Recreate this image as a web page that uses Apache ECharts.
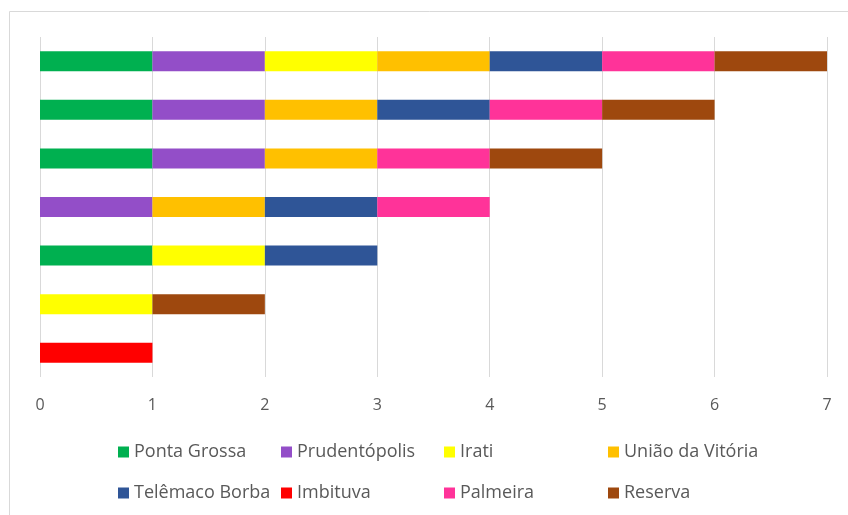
<!DOCTYPE html>
<html>
<head>
<meta charset="utf-8">
<script src="https://cdn.jsdelivr.net/npm/echarts@6/dist/echarts.min.js"></script>
<style>
  html, body { margin: 0; padding: 0; background: #fff; }
  #chart { width: 848px; height: 515px; }
</style>
</head>
<body>
<div id="chart"></div>
<script>
// rows from bottom to top
var rows = ['r7', 'r6', 'r5', 'r4', 'r3', 'r2', 'r1'];
var xTicks = [0, 1, 2, 3, 4, 5, 6, 7];

var pontaGrossa   = [0, 0, 1, 0, 1, 1, 1];
var prudentopolis = [0, 0, 0, 1, 1, 1, 1];
var irati         = [0, 1, 1, 0, 0, 0, 1];
var uniaoVitoria  = [0, 0, 0, 1, 1, 1, 1];
var telemaco      = [0, 0, 1, 1, 0, 1, 1];
var imbituva      = [1, 0, 0, 0, 0, 0, 0];
var palmeira      = [0, 0, 0, 1, 1, 1, 1];
var reserva       = [0, 1, 0, 0, 1, 1, 1];

var names = ['Ponta Grossa', 'Prudentópolis', 'Irati', 'União da Vitória',
             'Telêmaco Borba', 'Imbituva', 'Palmeira', 'Reserva'];
var values = [pontaGrossa, prudentopolis, irati, uniaoVitoria,
              telemaco, imbituva, palmeira, reserva];
var colors = ['#00b050', '#934ec8', '#ffff00', '#ffc000',
              '#2f5597', '#ff0000', '#ff3399', '#9e480e'];

var series = [];
for (var i = 0; i < names.length; i++) {
    series.push({
        name: names[i],
        type: 'bar',
        stack: 'total',
        barWidth: 20,
        itemStyle: { color: colors[i] },
        data: values[i]
    });
}

// one legend per item so the entries sit in fixed columns
var legendCols = [113, 276, 439, 603];
var legendRows = [438, 479];
var legends = [];
for (var j = 0; j < names.length; j++) {
    legends.push({
        data: [names[j]],
        left: legendCols[j % 4],
        top: legendRows[Math.floor(j / 4)],
        itemWidth: 11, itemHeight: 11, itemGap: 5,
        icon: 'rect',
        textStyle: { color: '#595959', fontSize: 18, fontFamily: 'Open Sans', padding: [0, 0, 0, 0] }
    });
}

var myChart = echarts.init(document.getElementById('chart'));
var option = {
    animation: false,
    color: colors,
    graphic: [{
        type: 'rect',
        shape: { x: 9.5, y: 11.5, width: 900, height: 600 },
        style: { fill: 'none', stroke: '#d9d9d9', lineWidth: 1 }
    }],
    grid: { left: 40, right: 21, top: 37, height: 340, containLabel: false },
    legend: legends,
    xAxis: {
        type: 'value',
        min: 0, max: 7, interval: 1,
        axisLine: { show: false },
        axisTick: { show: false },
        splitLine: { lineStyle: { color: '#d9d9d9' } },
        axisLabel: {
            color: '#595959', fontSize: 16, fontFamily: 'Open Sans', margin: 20,
            formatter: function (v) { return xTicks.indexOf(v) >= 0 ? String(v) : ''; }
        }
    },
    yAxis: {
        type: 'category',
        data: rows,
        axisLine: { show: false },
        axisTick: { show: false },
        axisLabel: { show: false }
    },
    series: series
};
myChart.setOption(option, true);
</script>
</body>
</html>
